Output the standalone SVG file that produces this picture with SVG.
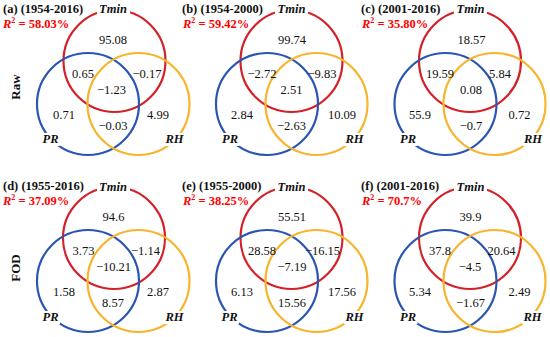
<svg xmlns="http://www.w3.org/2000/svg" width="550" height="337" viewBox="0 0 550 337">
<style>
  text { font-family: "Liberation Serif", "Times New Roman", serif; fill: #111; }
  .c { fill: none; stroke-width: 2.2; }
  .red { stroke: #d42027; }
  .blue { stroke: #2a55b2; }
  .yel { stroke: #f8b42c; }
  .num { font-size: 12.5px; text-anchor: middle; }
  .lab { font-size: 12.5px; font-weight: bold; font-style: italic; text-anchor: middle; }
  .ttl { font-size: 12.5px; font-weight: bold; }
  .r2 { font-size: 12.5px; font-weight: bold; fill: #ff0000; }
  .row { font-size: 13px; font-weight: bold; text-anchor: middle; }
  .bg { fill: #ffffff; }
</style>
<rect width="550" height="337" fill="#ffffff"/>

<g id="row-labels">
  <text class="row" x="20" y="87" transform="rotate(-90 20 87)">Raw</text>
  <text class="row" x="20" y="268" transform="rotate(-90 20 268)">FOD</text>
</g>

<!-- Panel a -->
<g id="panel-a">
  <text class="ttl" x="3" y="12.5">(a) (1954-2016)</text>
  <text class="r2" x="3" y="27.5"><tspan font-style="italic">R</tspan><tspan font-size="8" dy="-5">2</tspan><tspan dy="5"> = 58.03%</tspan></text>
  <g id="a-tmin"><circle class="c red" cx="114.5" cy="61" r="51"/><rect class="bg" x="97" y="3" width="33" height="13"/><text class="lab" x="113" y="13">Tmin</text></g>
  <g id="a-pr"><circle class="c blue" cx="88" cy="104" r="51"/><rect class="bg" x="41" y="133" width="19" height="13"/><text class="lab" x="50.5" y="143">PR</text></g>
  <g id="a-rh"><circle class="c yel" cx="138.5" cy="104" r="51"/><rect class="bg" x="164" y="133" width="21" height="13"/><text class="lab" x="174.5" y="143">RH</text></g>
  <g id="a-values">
    <text class="num" x="113" y="43.5">95.08</text>
    <text class="num" x="83" y="78">0.65</text>
    <text class="num" x="147" y="78">−0.17</text>
    <text class="num" x="111.5" y="94">−1.23</text>
    <text class="num" x="64" y="119">0.71</text>
    <text class="num" x="158" y="119">4.99</text>
    <text class="num" x="113" y="129.5">−0.03</text>
  </g>
</g>

<!-- Panel b -->
<g id="panel-b">
  <text class="ttl" x="182" y="12.5">(b) (1954-2000)</text>
  <text class="r2" x="183" y="27.5"><tspan font-style="italic">R</tspan><tspan font-size="8" dy="-5">2</tspan><tspan dy="5"> = 59.42%</tspan></text>
  <g id="b-tmin"><circle class="c red" cx="291.5" cy="61" r="51"/><rect class="bg" x="275" y="3" width="33" height="13"/><text class="lab" x="291.5" y="13">Tmin</text></g>
  <g id="b-pr"><circle class="c blue" cx="267" cy="104" r="51"/><rect class="bg" x="220.5" y="133" width="19" height="13"/><text class="lab" x="230" y="143">PR</text></g>
  <g id="b-rh"><circle class="c yel" cx="316.5" cy="104" r="51"/><rect class="bg" x="344" y="133" width="21" height="13"/><text class="lab" x="354.5" y="143">RH</text></g>
  <g id="b-values">
    <text class="num" x="292" y="43.5">99.74</text>
    <text class="num" x="262" y="78">−2.72</text>
    <text class="num" x="322" y="78">−9.83</text>
    <text class="num" x="291.5" y="94">2.51</text>
    <text class="num" x="242" y="119">2.84</text>
    <text class="num" x="342" y="119">10.09</text>
    <text class="num" x="291.5" y="129.5">−2.63</text>
  </g>
</g>

<!-- Panel c -->
<g id="panel-c">
  <text class="ttl" x="361" y="12.5">(c) (2001-2016)</text>
  <text class="r2" x="362" y="27.5"><tspan font-style="italic">R</tspan><tspan font-size="8" dy="-5">2</tspan><tspan dy="5"> = 35.80%</tspan></text>
  <g id="c-tmin"><circle class="c red" cx="470" cy="61" r="51"/><rect class="bg" x="454" y="3" width="33" height="13"/><text class="lab" x="470.5" y="13">Tmin</text></g>
  <g id="c-pr"><circle class="c blue" cx="445.5" cy="104" r="51"/><rect class="bg" x="398.5" y="133" width="19" height="13"/><text class="lab" x="408" y="143">PR</text></g>
  <g id="c-rh"><circle class="c yel" cx="494.5" cy="104" r="51"/><rect class="bg" x="522.5" y="133" width="21" height="13"/><text class="lab" x="533" y="143">RH</text></g>
  <g id="c-values">
    <text class="num" x="471.5" y="43.5">18.57</text>
    <text class="num" x="440" y="78">19.59</text>
    <text class="num" x="500" y="78">5.84</text>
    <text class="num" x="471" y="94">0.08</text>
    <text class="num" x="420" y="119">55.9</text>
    <text class="num" x="519.5" y="119">0.72</text>
    <text class="num" x="471" y="129.5">−0.7</text>
  </g>
</g>

<!-- Panel d -->
<g id="panel-d">
  <text class="ttl" x="3" y="190">(d) (1955-2016)</text>
  <text class="r2" x="3" y="204.5"><tspan font-style="italic">R</tspan><tspan font-size="8" dy="-5">2</tspan><tspan dy="5"> = 37.09%</tspan></text>
  <g id="d-tmin"><circle class="c red" cx="114" cy="238" r="51"/><rect class="bg" x="97" y="180.5" width="33" height="13"/><text class="lab" x="113" y="190.5">Tmin</text></g>
  <g id="d-pr"><circle class="c blue" cx="88" cy="281" r="51"/><rect class="bg" x="41" y="311" width="19" height="13"/><text class="lab" x="50.5" y="321">PR</text></g>
  <g id="d-rh"><circle class="c yel" cx="138.5" cy="281" r="51"/><rect class="bg" x="164" y="311" width="21" height="13"/><text class="lab" x="174.5" y="321">RH</text></g>
  <g id="d-values">
    <text class="num" x="113.5" y="221">94.6</text>
    <text class="num" x="83.5" y="255">3.73</text>
    <text class="num" x="145.5" y="255">−1.14</text>
    <text class="num" x="113.5" y="271">−10.21</text>
    <text class="num" x="64" y="296">1.58</text>
    <text class="num" x="158" y="296">2.87</text>
    <text class="num" x="113" y="306.5">8.57</text>
  </g>
</g>

<!-- Panel e -->
<g id="panel-e">
  <text class="ttl" x="182" y="190">(e) (1955-2000)</text>
  <text class="r2" x="183" y="204.5"><tspan font-style="italic">R</tspan><tspan font-size="8" dy="-5">2</tspan><tspan dy="5"> = 38.25%</tspan></text>
  <g id="e-tmin"><circle class="c red" cx="291.5" cy="238" r="51"/><rect class="bg" x="275" y="180.5" width="33" height="13"/><text class="lab" x="291.5" y="190.5">Tmin</text></g>
  <g id="e-pr"><circle class="c blue" cx="267" cy="281" r="51"/><rect class="bg" x="220" y="311" width="19" height="13"/><text class="lab" x="229.5" y="321">PR</text></g>
  <g id="e-rh"><circle class="c yel" cx="316.5" cy="281" r="51"/><rect class="bg" x="344" y="311" width="21" height="13"/><text class="lab" x="354.5" y="321">RH</text></g>
  <g id="e-values">
    <text class="num" x="292" y="221">55.51</text>
    <text class="num" x="262" y="255">28.58</text>
    <text class="num" x="322.5" y="255">−16.15</text>
    <text class="num" x="292" y="271">−7.19</text>
    <text class="num" x="242" y="296">6.13</text>
    <text class="num" x="342" y="296">17.56</text>
    <text class="num" x="292" y="306.5">15.56</text>
  </g>
</g>

<!-- Panel f -->
<g id="panel-f">
  <text class="ttl" x="361" y="190">(f) (2001-2016)</text>
  <text class="r2" x="362" y="204.5"><tspan font-style="italic">R</tspan><tspan font-size="8" dy="-5">2</tspan><tspan dy="5"> = 70.7%</tspan></text>
  <g id="f-tmin"><circle class="c red" cx="470" cy="238" r="51"/><rect class="bg" x="454" y="180.5" width="33" height="13"/><text class="lab" x="470.5" y="190.5">Tmin</text></g>
  <g id="f-pr"><circle class="c blue" cx="445.5" cy="281" r="51"/><rect class="bg" x="398.5" y="311" width="19" height="13"/><text class="lab" x="408" y="321">PR</text></g>
  <g id="f-rh"><circle class="c yel" cx="494.5" cy="281" r="51"/><rect class="bg" x="522" y="311" width="21" height="13"/><text class="lab" x="532.5" y="321">RH</text></g>
  <g id="f-values">
    <text class="num" x="470.5" y="221">39.9</text>
    <text class="num" x="440" y="255">37.8</text>
    <text class="num" x="501.5" y="255">20.64</text>
    <text class="num" x="470" y="271">−4.5</text>
    <text class="num" x="420" y="296">5.34</text>
    <text class="num" x="519.5" y="296">2.49</text>
    <text class="num" x="470.5" y="306.5">−1.67</text>
  </g>
</g>

<g id="connectors"></g>
</svg>
